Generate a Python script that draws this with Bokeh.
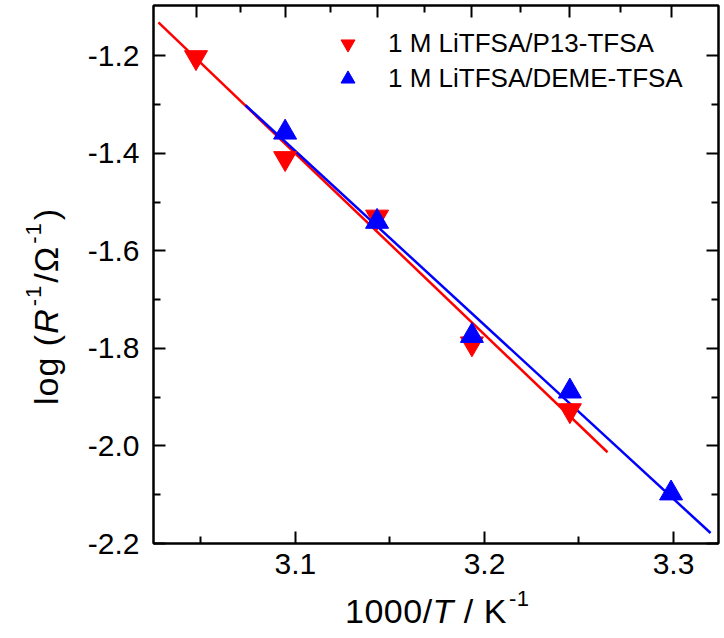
from bokeh.plotting import figure
from bokeh.layouts import row, column
from bokeh.models import (LinearAxis, FixedTicker, Range1d, Legend, LegendItem,
                          NumeralTickFormatter, CustomJSTickFormatter, Div)
from bokeh.embed import file_html
from bokeh.resources import INLINE

# ---------------- data ----------------
p13_temp_C = [55, 50, 45, 40, 35]
p13_logR = [-1.203, -1.410, -1.530, -1.790, -1.927]
deme_temp_C = [50, 45, 40, 35, 30]
deme_logR = [-1.357, -1.540, -1.774, -1.888, -2.097]

p13_fit_x = [3.0275, 3.2651]
p13_fit_y = [-1.1315, -2.0129]
deme_fit_x = [3.0736, 3.3196]
deme_fit_y = [-1.3012, -2.1785]

x_ticks = [3.1, 3.2, 3.3]
x_minor = [3.05, 3.15, 3.25]
y_ticks = [-2.2, -2.0, -1.8, -1.6, -1.4, -1.2]
y_minor = [-2.1, -1.9, -1.7, -1.5, -1.3]
top_temp_major_C = [55, 50, 45, 40, 35, 30]
top_temp_minor_C = [52.5, 47.5, 42.5, 37.5, 32.5]
legend_labels = ["1 M LiTFSA/P13-TFSA", "1 M LiTFSA/DEME-TFSA"]
x_title_html = "1000/<i>T</i> / K<span class='sup'>-1</span>"
y_title_html = ("log (<i>R</i><span class='sup'>-1</span>/&Omega;"
                "<span class='sup'>-1</span>)")

def inv_T(tc):
    return [1000.0 / (t + 273.15) for t in tc]

p13_x = inv_T(p13_temp_C)
deme_x = inv_T(deme_temp_C)

# ---------------- layout ----------------
FONT = "Liberation Sans"
X0, X1 = 3.0249, 3.3238
Y0, Y1 = -2.2, -1.0967
YW = 70                      # width of the y-title strip
W, H = 650, 588              # main figure
BL, BR, BT = 153 - YW, 2, 5
FH = 538
BB = H - FH - BT

p = figure(width=W, height=H, output_backend="svg", toolbar_location=None,
           x_range=Range1d(X0, X1), y_range=Range1d(Y0, Y1),
           min_border_left=BL, min_border_right=BR, min_border_top=BT,
           min_border_bottom=BB, x_axis_location=None, y_axis_location=None)
p.xgrid.visible = False
p.ygrid.visible = False
p.outline_line_color = "black"
p.outline_line_width = 2
p.background_fill_color = "white"
p.border_fill_color = "white"

def style_axis(ax, labels=True):
    ax.axis_line_width = 2
    ax.major_tick_line_width = 2
    ax.minor_tick_line_width = 2
    ax.major_tick_in = 12
    ax.major_tick_out = 0
    ax.minor_tick_in = 7
    ax.minor_tick_out = 0
    ax.major_label_text_font = FONT
    ax.major_label_text_color = "black"
    if labels:
        ax.major_label_text_font_size = "30px"
        ax.formatter = NumeralTickFormatter(format="0.0")
    else:
        ax.formatter = CustomJSTickFormatter(code="return ''")
        ax.major_label_text_font_size = "1px"
        ax.major_label_standoff = 0

bottom = LinearAxis(ticker=FixedTicker(ticks=x_ticks, minor_ticks=x_minor))
style_axis(bottom)
bottom.major_label_standoff = 10
p.add_layout(bottom, "below")

left = LinearAxis(ticker=FixedTicker(ticks=y_ticks, minor_ticks=y_minor))
style_axis(left)
left.major_label_standoff = 14
p.add_layout(left, "left")

right = LinearAxis(ticker=FixedTicker(ticks=y_ticks, minor_ticks=y_minor))
style_axis(right, labels=False)
p.add_layout(right, "right")

top = LinearAxis(ticker=FixedTicker(ticks=inv_T(top_temp_major_C),
                                    minor_ticks=inv_T(top_temp_minor_C)))
style_axis(top, labels=False)
p.add_layout(top, "above")

# ---------------- data marks ----------------
p.line(p13_fit_x, p13_fit_y, line_color="#ff0000", line_width=2.5)
p.line(deme_fit_x, deme_fit_y, line_color="#0000ff", line_width=2.5)
r_p13 = p.scatter(p13_x, p13_logR, marker="inverted_triangle", size=23,
                  fill_color="#ff0000", line_color="#ff0000")
r_deme = p.scatter(deme_x, deme_logR, marker="triangle", size=23,
                   fill_color="#0000ff", line_color="#0000ff")

legend = Legend(items=[LegendItem(label=legend_labels[0], renderers=[r_p13]),
                       LegendItem(label=legend_labels[1], renderers=[r_deme])],
                location=(177, 447), glyph_width=35, glyph_height=35,
                label_height=30, padding=0, spacing=-5, margin=0,
                label_standoff=23, border_line_color=None,
                background_fill_alpha=0, label_text_font=FONT,
                label_text_font_size="26px", label_text_color="black")
p.add_layout(legend)

# ---------------- axis titles (HTML, real text) ----------------
base_css = ("position:absolute; white-space:nowrap; font-family:'Liberation Sans';"
            " font-size:34px; line-height:40px; color:black;")
sup_css = "<style>.sup{font-size:22px; position:relative; top:-17px; margin:0 2px;}</style>"

y_div = Div(width=YW, height=H, margin=0, text=(
    sup_css +
    f"<div style='position:relative; width:{YW}px; height:{H}px;'>"
    f"<div style=\"{base_css} left:26px; top:405px; transform-origin:0 0;"
    f" transform:rotate(-90deg); letter-spacing:1px;\">{y_title_html}</div></div>"))

x_div = Div(width=YW + W, height=48, margin=0, text=(
    sup_css +
    f"<div style='position:relative; width:{YW + W}px; height:48px;'>"
    f"<div style=\"{base_css} left:345px; top:3px; letter-spacing:0.5px;\">"
    f"{x_title_html}</div></div>"))

layout = column(row(y_div, p, spacing=0), x_div, spacing=0)

open("out.html", "w").write(file_html(layout, INLINE))
